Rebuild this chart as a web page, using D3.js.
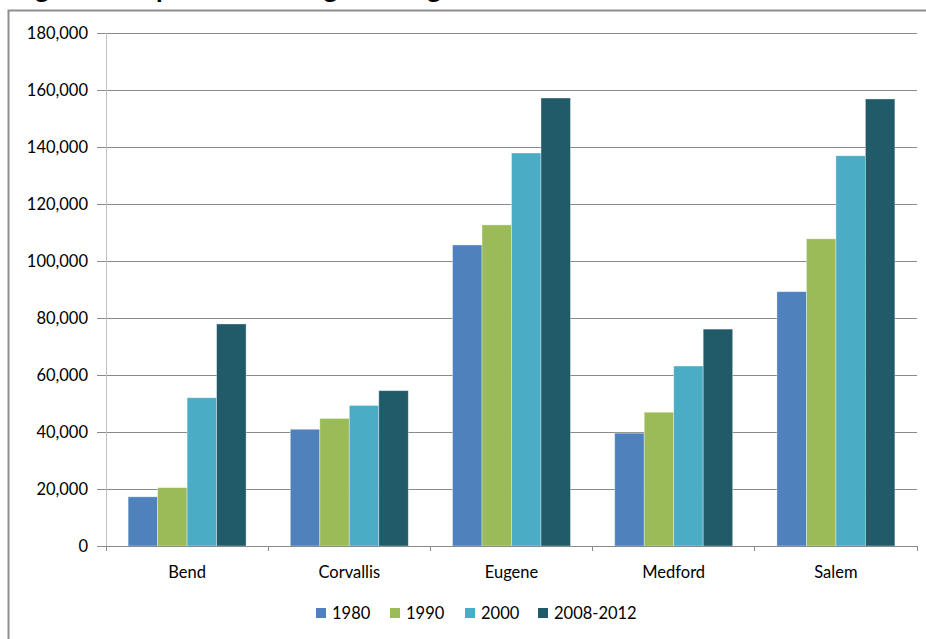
<!DOCTYPE html>
<html>
<head>
<meta charset="utf-8">
<script src="https://cdn.jsdelivr.net/npm/d3@7"></script>
<style>
  html, body { margin: 0; padding: 0; background: #fff; }
  svg { display: block; }
  text { font-family: Lato, "Open Sans", sans-serif; fill: #000; }
</style>
</head>
<body>
<svg id="chart" width="926" height="639"></svg>
<script>
// Population of the larger Oregon cities by census period
const cities = ["Bend", "Corvallis", "Eugene", "Medford", "Salem"];
const periods = ["1980", "1990", "2000", "2008-2012"];
const pop1980 = [17263, 40960, 105624, 39603, 89233];
const pop1990 = [20469, 44757, 112669, 46951, 107786];
const pop2000 = [52029, 49322, 137893, 63154, 136924];
const pop2008_2012 = [77905, 54500, 157190, 76100, 156850];
const yTicks = [0, 20000, 40000, 60000, 80000, 100000, 120000, 140000, 160000, 180000];
const titleText = "Figure 3: Population Change of Large Cities";

const seriesValues = [pop1980, pop1990, pop2000, pop2008_2012];
const colors = ["#4F81BD", "#9BBB59", "#4BACC6", "#215A69"];

const svg = d3.select("#chart");

// chart title (sits mostly above the visible area)
svg.append("text")
  .attr("x", 13)
  .attr("y", -2)
  .attr("font-size", 27)
  .attr("font-weight", "bold")
  .text(titleText);

// outer chart frame
svg.append("rect")
  .attr("x", 8.5).attr("y", 10.5)
  .attr("width", 940).attr("height", 660)
  .attr("fill", "none")
  .attr("stroke", "#8e8e8e")
  .attr("stroke-width", 2);

const plot = { left: 106, right: 917, top: 33, bottom: 546 };

const x0 = d3.scaleBand().domain(cities).range([plot.left, plot.right]).paddingInner(0).paddingOuter(0);
const x1 = d3.scaleBand().domain(periods).range([0, x0.bandwidth()]).paddingInner(0).paddingOuter(0.75);
const y = d3.scaleLinear().domain([0, 180000]).range([plot.bottom, plot.top]);
const color = d3.scaleOrdinal().domain(periods).range(colors);

// horizontal gridlines
svg.append("g")
  .attr("transform", `translate(${plot.left},0)`)
  .call(d3.axisLeft(y).tickValues(yTicks.filter(v => v > 0)).tickSize(-(plot.right - plot.left)).tickFormat(""))
  .call(g => g.select(".domain").remove())
  .call(g => g.selectAll("line").attr("stroke", "#8a8a8a").attr("shape-rendering", "crispEdges"));

// bars
const rows = cities.map((c, i) => ({ city: c, values: periods.map((p, j) => ({ period: p, value: seriesValues[j][i] })) }));

svg.append("g")
  .selectAll("g")
  .data(rows)
  .join("g")
  .attr("transform", d => `translate(${x0(d.city)},0)`)
  .selectAll("rect")
  .data(d => d.values)
  .join("rect")
  .attr("x", d => x1(d.period))
  .attr("y", d => y(d.value))
  .attr("width", x1.bandwidth())
  .attr("height", d => y(0) - y(d.value))
  .attr("fill", d => color(d.period))
  .attr("stroke", "rgba(255,255,255,0.45)")
  .attr("stroke-width", 0.8);

// y axis
svg.append("g")
  .attr("transform", `translate(${plot.left},0)`)
  .call(d3.axisLeft(y).tickValues(yTicks).tickSize(9).tickPadding(9).tickFormat(d3.format(",")))
  .call(g => g.select(".domain").attr("stroke", "#bfbfbf").attr("shape-rendering", "crispEdges"))
  .call(g => g.selectAll(".tick line").attr("stroke", "#8a8a8a").attr("shape-rendering", "crispEdges"))
  .call(g => g.selectAll("text").attr("font-size", 16.5).attr("font-family", "Lato, sans-serif").attr("fill", "#000"));

// x axis: ticks between categories
const xBounds = cities.map(c => x0(c)).concat([x0(cities[cities.length - 1]) + x0.bandwidth()]);
const xAxis = svg.append("g");
xAxis.append("line")
  .attr("x1", plot.left).attr("x2", plot.right)
  .attr("y1", y(0)).attr("y2", y(0))
  .attr("stroke", "#8a8a8a").attr("shape-rendering", "crispEdges");
xAxis.selectAll("line.tick")
  .data(xBounds)
  .join("line")
  .attr("class", "tick")
  .attr("x1", d => d).attr("x2", d => d)
  .attr("y1", y(0)).attr("y2", y(0) + 5)
  .attr("stroke", "#8a8a8a").attr("shape-rendering", "crispEdges");
xAxis.selectAll("text")
  .data(cities)
  .join("text")
  .attr("x", d => x0(d) + x0.bandwidth() / 2)
  .attr("y", y(0) + 32)
  .attr("text-anchor", "middle")
  .attr("font-size", 16.5)
  .text(d => d);

// legend
const legendX = [316, 390, 465, 538];
const legend = svg.append("g")
  .selectAll("g")
  .data(periods)
  .join("g")
  .attr("transform", (d, i) => `translate(${legendX[i]},608)`);
legend.append("rect")
  .attr("width", 10).attr("height", 10)
  .attr("fill", d => color(d));
legend.append("text")
  .attr("x", 16).attr("y", 10.5)
  .attr("font-size", 16.5)
  .text(d => d);
</script>
</body>
</html>
